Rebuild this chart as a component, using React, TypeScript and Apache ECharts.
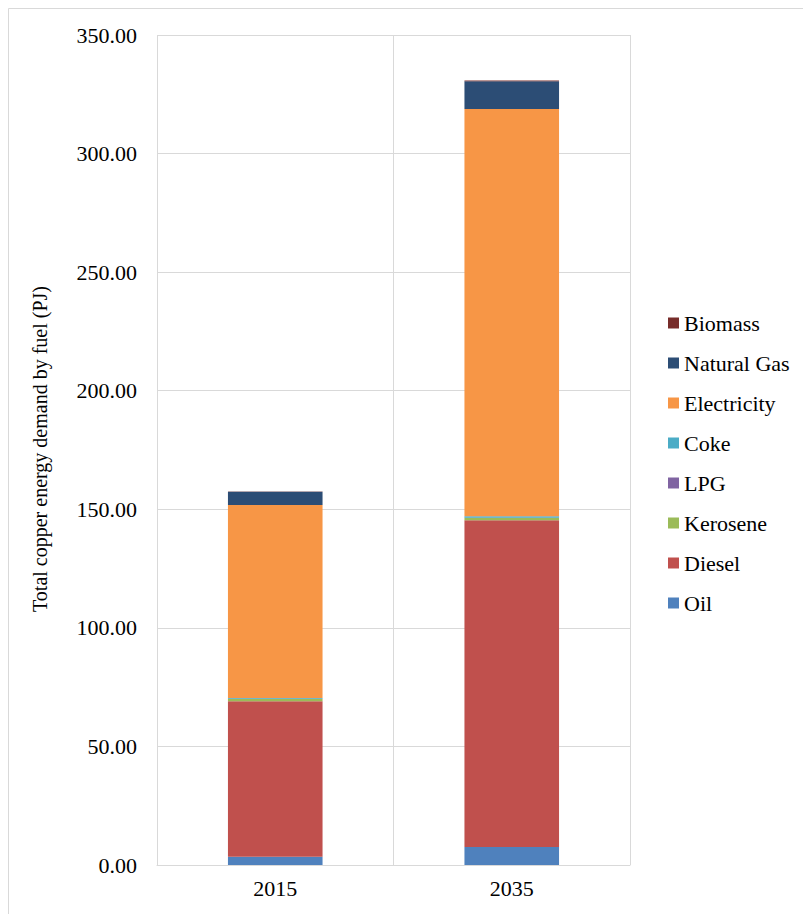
import React, { useEffect, useRef } from "react";
import * as echarts from "echarts";

const categories = ["2015", "2035"];
const oil = [3.5, 7.6];
const diesel = [65.6, 137.8];
const kerosene = [0.9, 0.9];
const lpg = [0.1, 0.1];
const coke = [0.3, 0.7];
const electricity = [81.4, 171.7];
const naturalGas = [5.6, 11.7];
const biomass = [0.1, 0.3];

const seriesDefs = [
  { name: "Oil", data: oil, color: "#4F81BD" },
  { name: "Diesel", data: diesel, color: "#C0504D" },
  { name: "Kerosene", data: kerosene, color: "#9BBB59" },
  { name: "LPG", data: lpg, color: "#8064A2" },
  { name: "Coke", data: coke, color: "#4BACC6" },
  { name: "Electricity", data: electricity, color: "#F79646" },
  { name: "Natural Gas", data: naturalGas, color: "#2C4D75" },
  { name: "Biomass", data: biomass, color: "#772C2A" },
];

const FONT = "Liberation Serif";

export default function App() {
  const ref = useRef<HTMLDivElement>(null);
  useEffect(() => {
    if (!ref.current) return;
    const chart = echarts.init(ref.current, undefined, { renderer: "svg" });
    chart.setOption({
      animation: false,
      backgroundColor: "#fff",
      textStyle: { fontFamily: FONT },
      grid: { left: 149, top: 27, right: 181, bottom: 49 },
      legend: {
        orient: "vertical",
        left: 655,
        top: 299,
        itemWidth: 11,
        itemHeight: 11,
        itemGap: 18,
        icon: "rect",
        data: seriesDefs.map((s) => s.name).reverse(),
        textStyle: { fontFamily: FONT, fontSize: 22, color: "#000" },
      },
      xAxis: {
        type: "category",
        data: categories,
        axisLine: { show: true, lineStyle: { color: "#d9d9d9", width: 1 } },
        axisTick: { show: false },
        splitLine: { show: true, lineStyle: { color: "#d9d9d9", width: 1 } },
        axisLabel: { fontFamily: FONT, fontSize: 22, color: "#000", margin: 12 },
      },
      yAxis: {
        type: "value",
        min: 0,
        max: 350,
        interval: 50,
        axisLine: { show: false },
        axisTick: { show: false },
        splitLine: { show: true, lineStyle: { color: "#d9d9d9", width: 1 } },
        axisLabel: {
          fontFamily: FONT,
          fontSize: 22,
          color: "#000",
          margin: 20,
          formatter: (v: number) => v.toFixed(2),
        },
      },
      graphic: [
        {
          type: "rect",
          shape: { x: 0.5, y: 0.5, width: 1200, height: 1200 },
          style: { fill: "none", stroke: "#d9d9d9", lineWidth: 1 },
          silent: true,
        },
        {
          type: "text",
          x: 32,
          y: 441,
          rotation: Math.PI / 2,
          style: {
            text: "Total copper energy demand by fuel (PJ)",
            fontFamily: FONT,
            fontSize: 20,
            fill: "#000",
            align: "center",
            verticalAlign: "middle",
          },
        },
      ],
      series: seriesDefs.map((s) => ({
        name: s.name,
        type: "bar",
        stack: "total",
        barWidth: "40%",
        data: s.data,
        itemStyle: { color: s.color },
      })),
    });
    return () => chart.dispose();
  }, []);
  return <div ref={ref} style={{ width: 803, height: 906 }} />;
}
